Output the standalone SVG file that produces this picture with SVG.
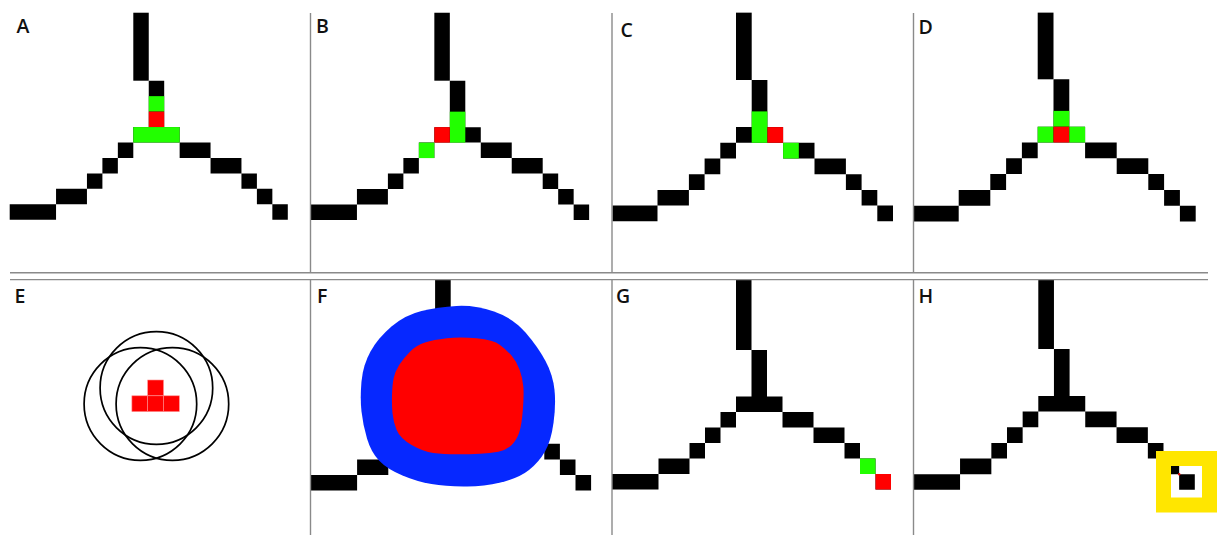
<svg xmlns="http://www.w3.org/2000/svg" width="1222" height="535" viewBox="0 0 1222 535">
<style>
.lbl{font-family:"Open Sans","Liberation Sans",sans-serif;font-weight:600;font-size:19.5px;fill:#111}
.div{stroke:#8a8a8a;stroke-width:1.4;fill:none}
.k{fill:#000}
.g{fill:#22ff00}
.r{fill:#ff0000}
.rc{fill:#ff0000;stroke:#ff8c8c;stroke-width:0.6}
.ring{fill:none;stroke:#000;stroke-width:1.7}
</style>
<defs>
<path id="ys" d="M9 0h1v3h-1z M8 3h3v1h-3z M7 4h1v1h-1z M6 5h1v1h-1z M5 6h1v1h-1z M3 7h2v1h-2z M0 8h3v1h-3z M11 4h2v1h-2z M13 5h2v1h-2z M15 6h1v1h-1z M16 7h1v1h-1z M17 8h1v1h-1z"/>
<clipPath id="cC"><rect x="612.5" y="0" width="300" height="535"/></clipPath>
<clipPath id="cD"><rect x="914" y="0" width="308" height="535"/></clipPath>
</defs>
<rect width="1222" height="535" fill="#fff"/>

<g id="panel-A">
<g transform="translate(9.7 80.7) scale(15.45)">
<use href="#ys" class="k"/>
<rect x="8" y="-4.4" width="1" height="4.4" class="k"/>
<rect x="9" y="1" width="1" height="1" class="g"/>
<rect x="9" y="2" width="1" height="1" class="r"/>
<rect x="8" y="3" width="3" height="1" class="g"/>
</g>
<text x="16.5" y="33.3" class="lbl">A</text>
</g>

<g id="panel-B">
<g transform="translate(310.5 80.7) scale(15.48)">
<use href="#ys" class="k"/>
<rect x="8" y="-4.39" width="1" height="4.39" class="k"/>
<rect x="9" y="2" width="1" height="2" class="g"/>
<rect x="8" y="3" width="1" height="1" class="r"/>
<rect x="7" y="4" width="1" height="1" class="g"/>
</g>
<text x="316" y="33.3" class="lbl">B</text>
</g>

<g id="panel-C">
<g clip-path="url(#cC)">
<g transform="translate(610.4 80) scale(15.7)">
<use href="#ys" class="k"/>
<rect x="8" y="-4.29" width="1" height="4.29" class="k"/>
<rect x="9" y="2" width="1" height="2" class="g"/>
<rect x="10" y="3" width="1" height="1" class="r"/>
<rect x="11" y="4" width="1" height="1" class="g"/>
</g>
</g>
<text x="620.5" y="36.5" class="lbl">C</text>
</g>

<g id="panel-D">
<g clip-path="url(#cD)">
<g transform="translate(911.3 79.3) scale(15.8)">
<use href="#ys" class="k"/>
<rect x="8" y="-4.22" width="1" height="4.22" class="k"/>
<rect x="9" y="2" width="1" height="1" class="g"/>
<rect x="8" y="3" width="1" height="1" class="g"/>
<rect x="9" y="3" width="1" height="1" class="r"/>
<rect x="10" y="3" width="1" height="1" class="g"/>
</g>
</g>
<text x="918.5" y="34.3" class="lbl">D</text>
</g>

<g id="panel-E">
<circle cx="140.4" cy="404" r="56.3" class="ring"/>
<circle cx="172.4" cy="404" r="56.3" class="ring"/>
<circle cx="156.4" cy="388" r="56.3" class="ring"/>
<rect x="147.7" y="380" width="15.8" height="15.8" class="rc"/>
<rect x="131.9" y="395.8" width="15.8" height="15.8" class="rc"/>
<rect x="147.7" y="395.8" width="15.8" height="15.8" class="rc"/>
<rect x="163.5" y="395.8" width="15.8" height="15.8" class="rc"/>
<text x="14.5" y="303.3" class="lbl">E</text>
</g>

<g id="panel-F">
<g transform="translate(310.3 350.2) scale(15.6)">
<use href="#ys" class="k"/>
<rect x="8" y="-4.5" width="1" height="4.5" class="k"/>
</g>
<path fill="#0628ff" d="M370.5 351.5 Q378 338 391.5 326.5 Q405 315 421.5 311 Q438 307 456.5 306 Q475 305 494 311.5 Q513 318 525.5 332.5 Q538 347 545.5 361 Q553 375 554.5 390 Q556 405 553.5 423 Q551 441 545 451.5 Q539 462 529 470 Q519 478 500.5 482.5 Q482 487 463.5 486.5 Q445 486 431.5 484 Q418 482 402.5 475.5 Q387 469 379 460.5 Q371 452 367 438.5 Q363 425 361.5 411.5 Q360 398 361.5 381.5 Q363 365 370.5 351.5 Z"/>
<path fill="#ff0000" d="M410 351.65 Q416.7 345 425 342.5 Q433.3 340 446.65 338.35 Q460 336.7 476.65 338.35 Q493.3 340 500 345 Q506.7 350 511.7 355.85 Q516.7 361.7 519.7 370 Q522.7 378.3 523.35 386.65 Q524 395 522.85 410 Q521.7 425 519.2 432.5 Q516.7 440 511.7 445 Q506.7 450 498.35 451.65 Q490 453.3 480 453.8 Q470 454.3 456.65 454.3 Q443.3 454.3 433.3 453 Q423.3 451.7 411.65 445 Q400 438.3 396.65 430 Q393.3 421.7 392.5 413.35 Q391.7 405 392 395 Q392.3 385 393.65 378.35 Q395 371.7 399.15 365 Q403.3 358.3 410 351.65 Z"/>
<text x="317" y="303.3" class="lbl">F</text>
</g>

<g id="panel-G">
<g transform="translate(612 350) scale(15.5)">
<use href="#ys" class="k"/>
<rect x="8" y="-4.52" width="1" height="4.52" class="k"/>
<rect x="16" y="7" width="1" height="1" class="g"/>
<rect x="17" y="8" width="1" height="1" class="r"/>
</g>
<text x="616" y="302.7" class="lbl">G</text>
</g>

<g id="panel-H">
<g clip-path="url(#cD)">
<g transform="translate(913.1 349) scale(15.65)">
<use href="#ys" class="k"/>
<rect x="8" y="-4.41" width="1" height="4.41" class="k"/>
</g>
</g>
<rect x="1163.5" y="458.5" width="46" height="46.5" fill="none" stroke="#ffe600" stroke-width="15"/>
<circle cx="1179.2" cy="474.3" r="1.2" fill="#e00000"/>
<text x="918.5" y="303.3" class="lbl">H</text>
</g>

<g id="dividers" class="div">
<line x1="310.5" y1="13" x2="310.5" y2="273"/>
<line x1="612" y1="13" x2="612" y2="273"/>
<line x1="913.5" y1="13" x2="913.5" y2="273"/>
<line x1="310.5" y1="279.6" x2="310.5" y2="535"/>
<line x1="612" y1="279.6" x2="612" y2="535"/>
<line x1="913.5" y1="279.6" x2="913.5" y2="535"/>
<line x1="10" y1="272.8" x2="1208" y2="272.8"/>
<line x1="10" y1="279.6" x2="1208" y2="279.6"/>
</g>
</svg>
